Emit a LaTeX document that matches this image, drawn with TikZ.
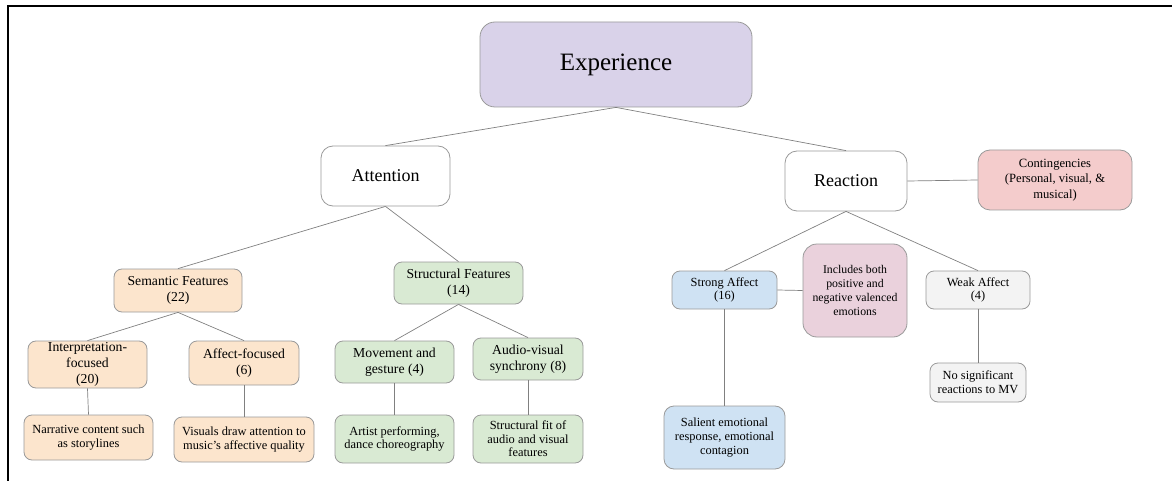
\documentclass[tikz,border=0pt]{standalone}
\usepackage{xcolor}
\usepackage{fontspec}
\setmainfont{Liberation Serif}
\usepackage{tikz}
\usetikzlibrary{positioning}

\definecolor{expcol}{HTML}{D9D2E9}
\definecolor{semcol}{HTML}{FCE5CD}
\definecolor{strcol}{HTML}{D9EAD3}
\definecolor{affcol}{HTML}{CFE2F3}
\definecolor{mixcol}{HTML}{EAD1DC}
\definecolor{weakcol}{HTML}{F3F3F3}
\definecolor{contcol}{HTML}{F4CCCC}
\definecolor{edgecol}{HTML}{9A9A9A}

\begin{document}
\begin{tikzpicture}[x=1pt, y=-1pt,
    box/.style={draw=edgecol, line width=0.8pt, rounded corners=8pt, align=center, inner sep=1pt},
    topbox/.style={box, fill=expcol, rounded corners=15pt, font=\fontsize{25}{30}\selectfont},
    mainbox/.style={box, fill=white, rounded corners=12pt, font=\fontsize{18}{21}\selectfont},
    midbox/.style={box, font=\fontsize{13.7}{15.7}\selectfont},
    leafbox/.style={box, font=\fontsize{12.4}{13.6}\selectfont},
    link/.style={draw=gray, line width=0.7pt}]
    \useasboundingbox (0,0) rectangle (1172,481);
    \draw[line width=2pt] (8,481) -- (8,6) -- (1172,6);

    \node[topbox, minimum width=272, minimum height=85] (exp) at (616,64.5) {Experience};
    \node[mainbox, minimum width=129, minimum height=60] (att) at (385.5,176) {Attention};
    \node[mainbox, minimum width=122, minimum height=60] (rea) at (846,181) {Reaction};
    \node[leafbox, fill=contcol, rounded corners=12pt, minimum width=154, minimum height=60,
          font=\fontsize{12.6}{15.3}\selectfont] (cont) at (1055,180) {Contingencies\\(Personal, visual, \&\\musical)};

    % attention side
    \node[midbox, fill=semcol, minimum width=128, minimum height=43] (sem) at (178,290.5) {Semantic Features\\(22)};
    \node[midbox, fill=strcol, minimum width=129, minimum height=42] (str) at (458.5,283) {Structural Features\\(14)};
    \node[midbox, fill=semcol, minimum width=119, minimum height=47] (interp) at (87.5,364.5) {Interpretation-\\focused\\(20)};
    \node[midbox, fill=semcol, minimum width=110, minimum height=44] (aff) at (244,363) {Affect-focused\\(6)};
    \node[midbox, fill=strcol, minimum width=119, minimum height=42] (move) at (394.5,362) {Movement and\\gesture (4)};
    \node[midbox, fill=strcol, minimum width=110, minimum height=42] (sync) at (528,359) {Audio-visual\\synchrony (8)};
    \node[leafbox, fill=semcol, minimum width=129, minimum height=45] (narr) at (88.5,437.5) {Narrative content such\\as storylines};
    \node[leafbox, fill=semcol, minimum width=140, minimum height=45] (vis) at (244,439.5) {Visuals draw attention to\\music's affective quality};
    \node[leafbox, fill=strcol, minimum width=119, minimum height=48] (artist) at (394.5,439) {Artist performing,\\dance choreography};
    \node[leafbox, fill=strcol, minimum width=110, minimum height=48] (fit) at (528,439) {Structural fit of\\audio and visual\\features};

    % reaction side
    \node[leafbox, fill=affcol, minimum width=105, minimum height=38] (strong) at (724.5,290) {Strong Affect\\(16)};
    \node[leafbox, fill=mixcol, rounded corners=14pt, minimum width=104, minimum height=93,
          font=\fontsize{11.8}{14}\selectfont] (mix) at (855,290.5) {Includes both\\positive and\\negative valenced\\emotions};
    \node[leafbox, fill=weakcol, minimum width=104, minimum height=38] (weak) at (978,290) {Weak Affect\\(4)};
    \node[leafbox, fill=affcol, rounded corners=10pt, minimum width=121, minimum height=63] (sal) at (724.5,437.5) {Salient emotional\\response, emotional\\contagion};
    \node[leafbox, fill=weakcol, minimum width=96, minimum height=39] (nosig) at (978,382.5) {No significant\\reactions to MV};

    \draw[link] (exp.south) -- (att.north);
    \draw[link] (exp.south) -- (rea.north);
    \draw[link] (att.south) -- (sem.north);
    \draw[link] (att.south) -- (str.north);
    \draw[link] (sem.south) -- (interp.north);
    \draw[link] (sem.south) -- (aff.north);
    \draw[link] (str.south) -- (move.north);
    \draw[link] (str.south) -- (sync.north);
    \draw[link] (interp.south) -- (narr.north);
    \draw[link] (aff.south) -- (vis.north);
    \draw[link] (move.south) -- (artist.north);
    \draw[link] (sync.south) -- (fit.north);
    \draw[link] (rea.east) -- (cont.west);
    \draw[link] (rea.south) -- (strong.north);
    \draw[link] (rea.south) -- (weak.north);
    \draw[link] (strong.east) -- (mix.west);
    \draw[link] (strong.south) -- (sal.north);
    \draw[link] (weak.south) -- (nosig.north);
\end{tikzpicture}
\end{document}
